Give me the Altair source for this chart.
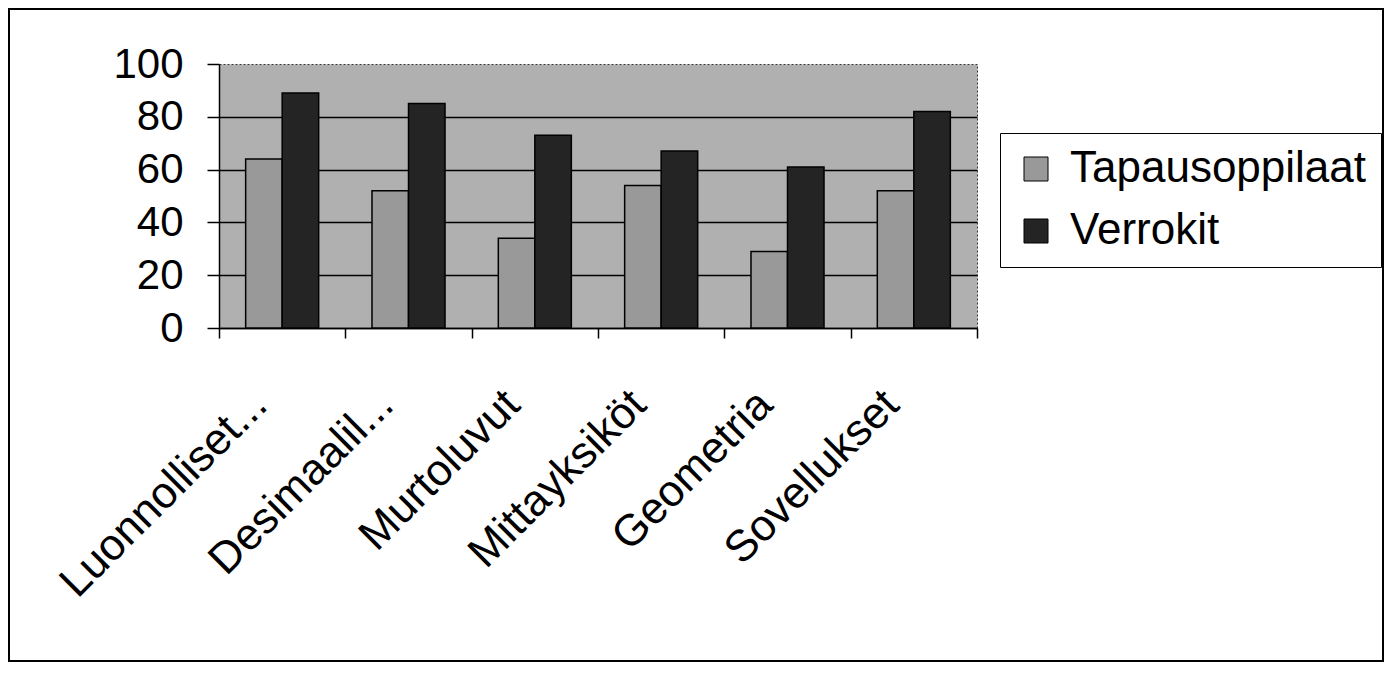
import altair as alt
import pandas as pd

categories = ["Luonnolliset...", "Desimaalil...", "Murtoluvut", "Mittayksiköt", "Geometria", "Sovellukset"]
series = ["Tapausoppilaat", "Verrokit"]
tapausoppilaat = [64, 52, 34, 54, 29, 52]
verrokit = [89, 85, 73, 67, 61, 82]
y_ticks = [0, 20, 40, 60, 80, 100]
series_colors = ["#999999", "#242424"]

rows = []
for c, a, b in zip(categories, tapausoppilaat, verrokit):
    rows.append({"kategoria": c, "sarja": series[0], "arvo": a})
    rows.append({"kategoria": c, "sarja": series[1], "arvo": b})
df = pd.DataFrame(rows)

FONT = "Liberation Sans"

bars = alt.Chart(df).mark_bar(stroke="black", strokeWidth=1.5).encode(
    x=alt.X(
        "kategoria:N", sort=categories, title=None,
        scale=alt.Scale(paddingInner=0, paddingOuter=0),
        axis=alt.Axis(
            labelAngle=-45, labelAlign="right", labelBaseline="top",
            labelFontSize=44, labelFont=FONT, labelColor="black",
            tickBand="extent", tickSize=10, tickColor="black", tickWidth=1.5,
            domainColor="black", domainWidth=1.5,
            labelPadding=44, labelOffset=-38,
            grid=False, labelLimit=0,
        ),
    ),
    xOffset=alt.XOffset("sarja:N", sort=series,
                        scale=alt.Scale(paddingOuter=0.73, paddingInner=0)),
    y=alt.Y(
        "arvo:Q", title=None,
        scale=alt.Scale(domain=[0, 100], nice=False),
        axis=alt.Axis(
            values=y_ticks, labelFontSize=42, labelFont=FONT, labelColor="black",
            tickSize=12, tickColor="black", tickWidth=1.5, labelPadding=24,
            domainColor="black", domainWidth=1.5,
            gridColor={"condition": {"test": "datum.value === 100", "value": "transparent"},
                       "value": "black"},
            gridWidth=1.5,
        ),
    ),
    color=alt.Color(
        "sarja:N", sort=series,
        scale=alt.Scale(domain=series, range=series_colors),
        legend=alt.Legend(
            title=None, orient="none", legendX=781, legendY=69,
            labelFontSize=44, labelFont=FONT, labelColor="black", labelLimit=0,
            symbolType="square", symbolSize=576,
            symbolStrokeColor="black", symbolStrokeWidth=1,
            strokeColor="black", fillColor="white",
            padding=14, rowPadding=18, labelOffset=12,
        ),
    ),
)

frame = alt.Chart(pd.DataFrame({"f": [0]})).mark_rect(
    fill="white", fillOpacity=0, stroke="black", strokeWidth=2
).encode(
    x=alt.value(-210), x2=alt.value(1164), y=alt.value(-55), y2=alt.value(597)
)

chart = alt.layer(bars, frame).properties(
    width=758, height=264,
    autosize=alt.AutoSizeParams(type="none"),
    padding={"left": 211, "top": 56, "right": 407, "bottom": 335},
    background="white",
).configure_view(fill="#b0b0b0", stroke="#333333", strokeDash=[2, 2])

chart.save("out.html", embed_options={"renderer": "svg", "actions": False})
